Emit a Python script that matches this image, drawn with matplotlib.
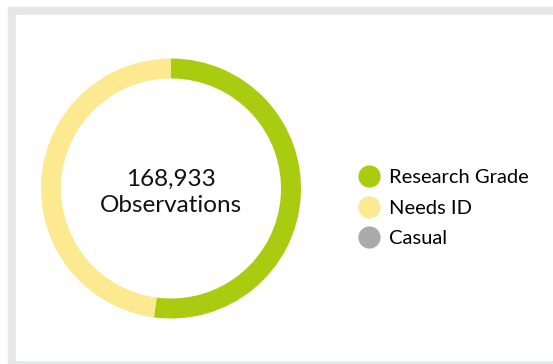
import matplotlib.pyplot as plt
from matplotlib.patches import Rectangle
from matplotlib.lines import Line2D

plt.rcParams['font.family'] = ['Lato', 'DejaVu Sans']

# datos
categorias = ['Research Grade', 'Needs ID', 'Casual']
valores = [88000, 80933, 0]
colores = ['#a9cc10', '#fde98f', '#aaaaaa']
total_txt = '168,933'
sub_txt = 'Observations'

W, H = 553, 364
fig = plt.figure(figsize=(W / 100, H / 100), dpi=100)
ax = fig.add_axes([0, 0, 1, 1])

# marco gris del panel
ax.add_patch(Rectangle((8, 0), W - 8, H - 7, color='#e6e7e8', zorder=0))
ax.add_patch(Rectangle((16, 4), W - 17, H - 19, color='white', zorder=0))

# anillo
cx, cy, r = 171, H - 188.5, 130
ax.pie(valores, colors=colores, startangle=90, counterclock=False,
       center=(cx, cy), radius=r,
       wedgeprops=dict(width=20, linewidth=0))

ax.text(cx, cy + 9, total_txt, ha='center', va='center', fontsize=17.5, color='#111111')
ax.text(cx, cy - 17, sub_txt, ha='center', va='center', fontsize=17.5, color='#111111')

# leyenda
handles = [Line2D([], [], marker='o', linestyle='', markersize=15,
                  markerfacecolor=c, markeredgecolor=c) for c in colores]
ax.legend(handles, categorias, loc='center left', bbox_to_anchor=(347 / W, (H - 208) / H),
          frameon=False, fontsize=14.5, handletextpad=0.4, labelspacing=0.66,
          handlelength=1.2, borderpad=0)

ax.set_xlim(0, W)
ax.set_ylim(0, H)
ax.set_aspect('auto')
ax.axis('off')

fig.savefig('out.png', dpi=100)
